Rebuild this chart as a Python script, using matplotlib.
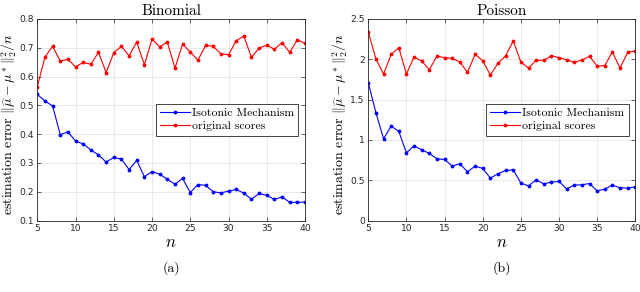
import matplotlib
matplotlib.use("Agg")
import matplotlib.pyplot as plt
import numpy as np

plt.rcParams['mathtext.fontset'] = 'cm'
plt.rcParams['axes.unicode_minus'] = False

n = list(range(5, 41))

# Binomial
binom_iso = [0.538, 0.515, 0.498, 0.398, 0.408, 0.376, 0.366, 0.345, 0.328, 0.303,
             0.319, 0.313, 0.277, 0.309, 0.252, 0.270, 0.261, 0.243, 0.226, 0.246,
             0.197, 0.225, 0.222, 0.200, 0.196, 0.202, 0.208, 0.195, 0.174, 0.194,
             0.187, 0.173, 0.182, 0.163, 0.163, 0.164]
binom_orig = [0.565, 0.668, 0.705, 0.654, 0.660, 0.634, 0.649, 0.643, 0.684, 0.614,
              0.683, 0.705, 0.672, 0.720, 0.641, 0.730, 0.703, 0.720, 0.629, 0.713,
              0.685, 0.657, 0.708, 0.705, 0.679, 0.676, 0.724, 0.741, 0.667, 0.699,
              0.709, 0.695, 0.718, 0.684, 0.728, 0.715]

# Poisson
pois_iso = [1.709, 1.337, 1.014, 1.171, 1.105, 0.840, 0.927, 0.877, 0.832, 0.766,
            0.757, 0.675, 0.704, 0.604, 0.675, 0.646, 0.526, 0.580, 0.621, 0.629,
            0.464, 0.430, 0.505, 0.455, 0.476, 0.484, 0.393, 0.439, 0.443, 0.459,
            0.368, 0.389, 0.439, 0.406, 0.401, 0.418]
pois_orig = [2.339, 2.003, 1.817, 2.061, 2.144, 1.817, 2.028, 1.979, 1.871, 2.041,
             2.020, 2.012, 1.966, 1.838, 2.061, 1.983, 1.805, 1.950, 2.045, 2.227,
             1.966, 1.892, 1.987, 1.987, 2.045, 2.020, 1.995, 1.962, 1.991, 2.037,
             1.917, 1.921, 2.090, 1.892, 2.086, 2.103]

titles = ["Binomial", "Poisson"]
sublabels = ["(a)", "(b)"]
ylims = [(0.1, 0.8), (0, 2.5)]
yticks = [np.round(np.arange(0.1, 0.81, 0.1), 1), [0, 0.5, 1, 1.5, 2, 2.5]]
yticklabels = [["0.1", "0.2", "0.3", "0.4", "0.5", "0.6", "0.7", "0.8"],
               ["0", "0.5", "1", "1.5", "2", "2.5"]]

fig = plt.figure(figsize=(6.4, 2.92), dpi=100)
axes = [fig.add_axes([37.3/640, 1-220.5/292, 267.7/640, 201.5/292]),
        fig.add_axes([368.3/640, 1-220.5/292, 267/640, 201.5/292])]
label_x = [9, 340]  # ylabel centre, pixels

data = [(binom_iso, binom_orig), (pois_iso, pois_orig)]
serif = 'cmr10'

for i, ax in enumerate(axes):
    iso, orig = data[i]
    ax.plot(n, iso, color='#0000ff', marker='.', markersize=3.5, lw=0.8, label='Isotonic Mechanism')
    ax.plot(n, orig, color='#ff0000', marker='.', markersize=3.5, lw=0.8, label='original scores')
    ax.set_xlim(5, 40)
    ax.set_ylim(*ylims[i])
    ax.set_xticks([5, 10, 15, 20, 25, 30, 35, 40])
    ax.set_yticks(yticks[i])
    ax.set_yticklabels(yticklabels[i])
    ax.tick_params(direction='in', labelsize=6.6, length=3, width=0.5, colors='#262626',
                   top=True, right=True, pad=2.5)
    ax.grid(True, color='#e6e6e6', lw=0.6)
    ax.set_axisbelow(True)
    for s in ax.spines.values():
        s.set_linewidth(0.6)
        s.set_color('#262626')
    ax.set_title(titles[i], fontsize=11, family=serif, pad=3)
    ax.set_xlabel(r'$n$', fontsize=12, labelpad=0)
    ax.set_ylabel(r'estimation error $\|\widehat{\mu}-\mu^*\|_2^2/n$', fontsize=10,
                  family=serif, va='center')
    pos = ax.get_position()
    ax.yaxis.set_label_coords((label_x[i] / 640 - pos.x0) / pos.width, 0.48)
    leg = ax.legend(loc='center right', bbox_to_anchor=(0.975, 0.5),
                    prop={'family': serif, 'size': 8.5}, fancybox=False, framealpha=1,
                    edgecolor='#262626', borderpad=0.35, labelspacing=0.25,
                    handlelength=2.5, handletextpad=0.2, borderaxespad=0)
    leg.get_frame().set_linewidth(0.6)
    fig.text((pos.x0 + pos.x1) / 2, 1 - 268/292, sublabels[i],
             ha='center', va='center', fontsize=10, family=serif)

fig.savefig("out.png", dpi=100)
